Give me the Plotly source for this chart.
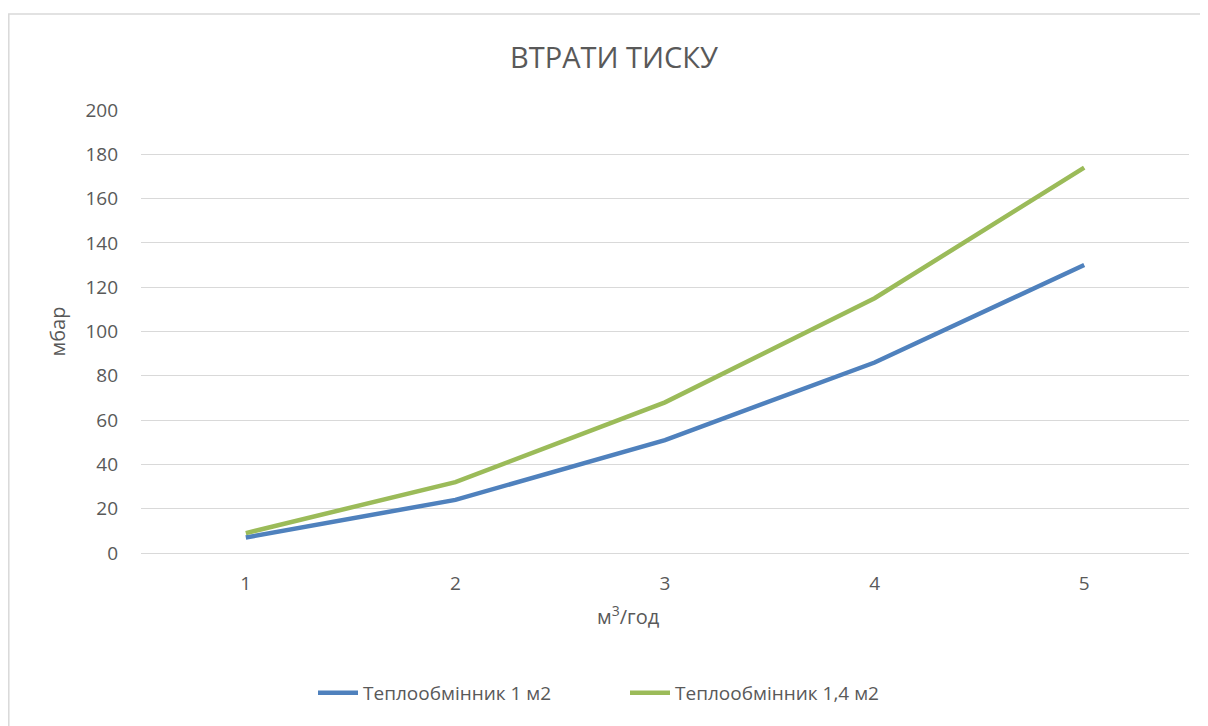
import plotly.graph_objects as go

categories = [1, 2, 3, 4, 5]
series_names = ["Теплообмінник 1 м2", "Теплообмінник 1,4 м2"]
values_1m2 = [7, 24, 51, 86, 130]
values_14m2 = [9, 32, 68, 115, 174]
y_ticks = [0, 20, 40, 60, 80, 100, 120, 140, 160, 180, 200]

title_text = "ВТРАТИ ТИСКУ"
x_title = "м<sup>3</sup>/год"
y_title = "мбар"

# page body has an 8px margin, so figure coords = screen coords - 8
OFF = 8
W, H = 1200, 718
L, T = 141 - OFF, 110 - OFF
R = W - (1189 - OFF)
B = H - (553 - OFF)
pw, ph = W - L - R, H - T - B

def px_x(sx):
    return (sx - OFF - L) / pw

def px_y(sy):
    return (H - B - (sy - OFF)) / ph

font_family = "Open Sans, Noto Sans, DejaVu Sans, sans-serif"
txt_color = "#595959"

fig = go.Figure()
fig.add_trace(go.Scatter(x=categories, y=values_1m2, mode="lines", name=series_names[0],
                         line=dict(color="#4f81bd", width=4.5)))
fig.add_trace(go.Scatter(x=categories, y=values_14m2, mode="lines", name=series_names[1],
                         line=dict(color="#9bbb59", width=4.5)))

# outer chart frame
fig.add_shape(type="rect", xref="paper", yref="paper",
              x0=px_x(8.8), x1=px_x(1230), y0=px_y(740), y1=px_y(14),
              line=dict(color="#d9d9d9", width=1.5), fillcolor="rgba(0,0,0,0)", layer="below")

# x axis title (offset from the plot centre, as in the reference)
fig.add_annotation(text=x_title, xref="paper", yref="paper", x=px_x(628), y=px_y(615),
                   xanchor="center", yanchor="middle", showarrow=False,
                   font=dict(size=20, color=txt_color, family=font_family))

fig.update_layout(
    width=W, height=H,
    margin=dict(l=L, r=R, t=T, b=B),
    paper_bgcolor="white", plot_bgcolor="white",
    font=dict(family=font_family, color=txt_color, size=19),
    title=dict(text=title_text, x=(614 - OFF) / W, xanchor="center", y=(H - (58 - OFF)) / H,
               yanchor="middle", font=dict(size=29, color=txt_color, family=font_family)),
    showlegend=True,
    legend=dict(orientation="h", x=px_x(625), xanchor="center", y=px_y(693), yanchor="middle",
                font=dict(size=19, color=txt_color), itemwidth=40,
                entrywidth=257, entrywidthmode="pixels"),
    xaxis=dict(range=[0.5, 5.5], tickvals=categories, ticktext=[str(c) for c in categories],
               showgrid=False, zeroline=False, showline=False, ticks="",
               tickfont=dict(size=19, color=txt_color), ticklabelstandoff=17),
    yaxis=dict(range=[0, 200], tickvals=y_ticks, showgrid=True, gridcolor="#d9d9d9", gridwidth=1,
               zeroline=True, zerolinecolor="#d9d9d9", zerolinewidth=1, showline=False, ticks="",
               title=dict(text=y_title, font=dict(size=20, color=txt_color), standoff=14),
               tickfont=dict(size=19, color=txt_color), ticklabelstandoff=22),
)

fig.write_html("out.html")
